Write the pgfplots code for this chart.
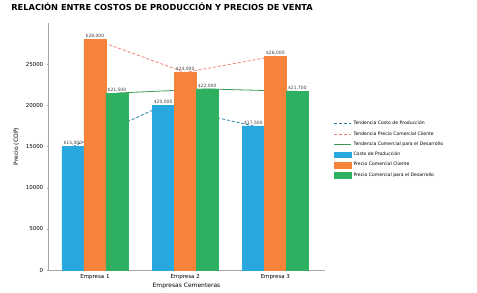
\documentclass[border=0pt]{standalone}
\usepackage{pgfplots}
\pgfplotsset{compat=1.18}
\usepackage{fontspec}
\setmainfont{DejaVu Sans}
\definecolor{cblue}{HTML}{29A8E0}
\definecolor{corange}{HTML}{F5843A}
\definecolor{cgreen}{HTML}{2DB05F}
\definecolor{cred}{HTML}{F08070}
\definecolor{cdblue}{HTML}{2A7FA8}
\definecolor{cdgreen}{HTML}{3A9A50}
\pgfplotsset{vallabel/.style={
  nodes near coords={\$\pgfmathprintnumber[1000 sep={{,}}, assume math mode=true]{\pgfplotspointmeta}},
  point meta=y,
  nodes near coords style={font=\fontsize{4.5}{5}\selectfont, color=black!75, inner sep=1pt}}}
\begin{document}
\begin{tikzpicture}
\begin{axis}[
  scale only axis, width=277bp, height=247bp,
  xmin=-0.52, xmax=2.55, ymin=0, ymax=30000,
  axis lines=left, axis line style={gray!70, -},
  xtick={0,1,2}, xticklabels={Empresa 1,Empresa 2,Empresa 3},
  ytick={0,5000,10000,15000,20000,25000},
  scaled y ticks=false,
  yticklabel style={/pgf/number format/1000 sep={}, /pgf/number format/assume math mode=true},
  tick label style={font=\fontsize{5.5}{6}\selectfont},
  tick style={gray!70}, major tick length=2.5pt,
  tick pos=left,
  xlabel={Empresas Cementeras}, ylabel={Precio (COP)},
  label style={font=\fontsize{6}{7}\selectfont},
  xlabel style={yshift=4pt},
  title={\textbf{RELACIÓN ENTRE COSTOS DE PRODUCCIÓN Y PRECIOS DE VENTA}},
  title style={font=\fontsize{8.3}{9}\selectfont, anchor=south west, at={(rel axis cs:-0.145,1.01)}},
  legend style={at={(1.02,0.62)}, anchor=north west, draw=none, fill=none,
    font=\fontsize{4.6}{5.5}\selectfont, row sep=1.3pt},
  legend cell align=left,
  bar width=0.244,
  clip=false,
]
\addplot[cdblue, densely dashed, thick] coordinates {(-0.244,15000) (0.756,20000) (1.756,17500)};
\addlegendentry{Tendencia Costo de Producción}
\addplot[cred, densely dashed, thick] coordinates {(0,28000) (1,24000) (2,26000)};
\addlegendentry{Tendencia Precio Comercial Cliente}
\addplot[cdgreen, thick] coordinates {(0.244,21500) (1.244,22000) (2.244,21700)};
\addlegendentry{Tendencia Comercial para el Desarrollo}
\addplot[ybar, area legend, bar shift=0, fill=cblue, draw=cblue, vallabel]
  coordinates {(-0.244,15000) (0.756,20000) (1.756,17500)};
\addlegendentry{Costo de Producción}
\addplot[ybar, area legend, bar shift=0, fill=corange, draw=corange, vallabel]
  coordinates {(0,28000) (1,24000) (2,26000)};
\addlegendentry{Precio Comercial Cliente}
\addplot[ybar, area legend, bar shift=0, fill=cgreen, draw=cgreen, vallabel]
  coordinates {(0.244,21500) (1.244,22000) (2.244,21700)};
\addlegendentry{Precio Comercial para el Desarrollo}
\end{axis}
\useasboundingbox (current axis.south west) ++(-48bp,-22bp) rectangle ++(477bp,289bp);
\end{tikzpicture}
\end{document}
